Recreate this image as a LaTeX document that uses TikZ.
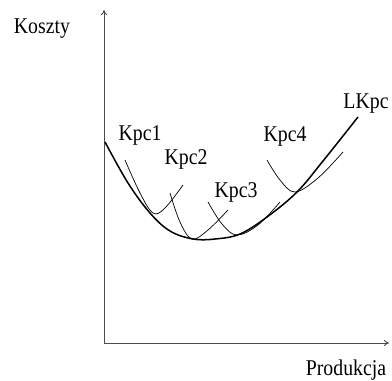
\documentclass[tikz,border=0pt]{standalone}
\usepackage{fontspec}
\setmainfont{Liberation Serif}
\usetikzlibrary{arrows.meta}
\newcommand{\nar}[1]{\scalebox{0.88}[1]{#1}}
\begin{document}
\begin{tikzpicture}[x=1pt,y=-1pt,
  axis/.style={draw=black!70,line width=0.9pt,-{To[length=5pt,width=6pt]}},
  env/.style={line width=1.5pt,line join=round},
  short/.style={line width=0.7pt},
  lbl/.style={font=\fontsize{22.5}{24}\selectfont,inner sep=0pt}]
\useasboundingbox (0,0) rectangle (392,381);
\coordinate (o) at (104,343);
\coordinate (yt) at (104,10);
\coordinate (xt) at (389,343);
\draw[axis] (o) -- (yt);
\draw[axis] (o) -- (xt);
\node[lbl] (ky) at (42,29) {\nar{Koszty}};
\node[lbl] (pr) at (346,370) {\nar{Produkcja}};
% envelope LKpc
\draw[env] plot[smooth,tension=0.6] coordinates {(105,142) (128,183) (150,213) (170,231) (193,239) (215,239) (240,234) (267,217) (297,192) (323,161) (358,117)};
% short-run curves
\draw[short] plot[smooth,tension=0.6] coordinates {(125,160) (140,193) (153,213) (165,208) (183,185)};
\draw[short] plot[smooth,tension=0.6] coordinates {(170,193) (180,222) (192,239) (208,230) (228,210)};
\draw[short] plot[smooth,tension=0.6] coordinates {(208,202) (222,224) (237,235) (258,225) (280,202)};
\draw[short] plot[smooth,tension=0.6] coordinates {(267,160) (280,180) (295,192) (318,178) (343,152)};
\node[lbl] (k1) at (140,135) {\nar{Kpc1}};
\node[lbl] (k2) at (186,159) {\nar{Kpc2}};
\node[lbl] (k3) at (236,192) {\nar{Kpc3}};
\node[lbl] (k4) at (285,136) {\nar{Kpc4}};
\node[lbl] (lk) at (366,104) {\nar{LKpc}};
\end{tikzpicture}
\end{document}
